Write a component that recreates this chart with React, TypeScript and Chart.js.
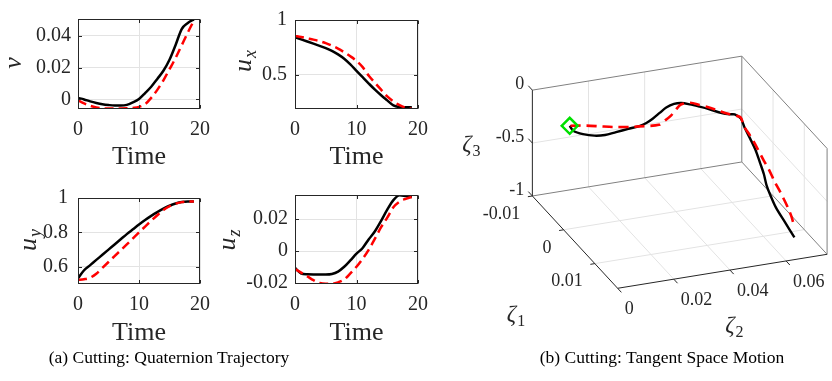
import React, { useEffect, useRef } from "react";
import { Chart, registerables } from "chart.js";

Chart.register(...registerables);

const SERIF = "'Liberation Serif', 'Times New Roman', Times, serif";
const INK = "#262626";
const GRID = "#e3e3e3";
const RED = "#ff0000";

// ---------- (a) quaternion trajectory ----------
const TIME = [0, 1, 2, 3, 4, 5, 6, 7, 8, 9, 10, 11, 12, 13, 14, 15, 16, 17, 18, 19];
const V_DEMO = [0.001, 0.0, -0.0012, -0.0022, -0.003, -0.0035, -0.0038, -0.0038, -0.0034, -0.0018, 0.0003, 0.004, 0.008, 0.0129, 0.018, 0.0249, 0.0342, 0.0442, 0.048, 0.0503];
const V_REPRO = [-0.0006, -0.0025, -0.004, -0.005, -0.0055, -0.0057, -0.0057, -0.0057, -0.0056, -0.0053, -0.0047, -0.003, 0.001, 0.006, 0.012, 0.019, 0.026, 0.034, 0.042, 0.0495];
const UX_DEMO = [0.843, 0.823, 0.803, 0.783, 0.763, 0.742, 0.717, 0.685, 0.645, 0.593, 0.534, 0.476, 0.418, 0.362, 0.311, 0.264, 0.218, 0.203, 0.2, 0.2];
const UX_REPRO = [0.854, 0.844, 0.832, 0.82, 0.806, 0.788, 0.765, 0.738, 0.705, 0.668, 0.625, 0.568, 0.49, 0.425, 0.362, 0.3, 0.255, 0.22, 0.197, 0.186];
const UY_DEMO = [0.533, 0.58, 0.61, 0.64, 0.67, 0.7, 0.73, 0.76, 0.79, 0.818, 0.846, 0.872, 0.896, 0.918, 0.938, 0.955, 0.968, 0.977, 0.98, 0.98];
const UY_REPRO = [0.524, 0.528, 0.537, 0.56, 0.594, 0.628, 0.662, 0.696, 0.73, 0.765, 0.8, 0.834, 0.868, 0.9, 0.93, 0.952, 0.967, 0.976, 0.98, 0.98];
const UZ_DEMO = [-0.0105, -0.014, -0.0145, -0.0146, -0.0146, -0.0146, -0.0143, -0.0128, -0.0098, -0.0058, -0.0016, 0.002, 0.0075, 0.0125, 0.019, 0.026, 0.032, 0.035, 0.0345, 0.034];
const UZ_REPRO = [-0.0112, -0.0135, -0.0158, -0.0182, -0.02, -0.0205, -0.0205, -0.0196, -0.0178, -0.014, -0.0098, -0.0048, 0.001, 0.0078, 0.015, 0.021, 0.0275, 0.031, 0.0328, 0.034];

const X_TICKS = [0, 10, 20];
const V_TICKS = [0, 0.02, 0.04];
const UX_TICKS = [0.5, 1];
const UY_TICKS = [0.6, 0.8, 1];
const UZ_TICKS = [-0.02, 0, 0.02];

// ---------- (b) tangent space motion ----------
const DEMO_Z1 = [-0.002, -0.0023, -0.0027, -0.003, -0.0033, -0.0037, -0.004, -0.0043, -0.0047, -0.005, -0.0053, -0.0057, -0.006, -0.006, -0.006, -0.006, -0.006, -0.0057, -0.005, -0.0043, -0.0032, -0.0017, -0.0001, 0.0014, 0.003, 0.0046, 0.0062, 0.0078, 0.0093, 0.0109, 0.0125];
const DEMO_Z2 = [0.0044, 0.0061, 0.0099, 0.0143, 0.0184, 0.0228, 0.0275, 0.032, 0.0347, 0.0374, 0.0401, 0.0429, 0.046, 0.0486, 0.0517, 0.0551, 0.0584, 0.0627, 0.0647, 0.0657, 0.0667, 0.0664, 0.0666, 0.0667, 0.0666, 0.0662, 0.0654, 0.0649, 0.0653, 0.0666, 0.0683];
const DEMO_Z3 = [-0.1, -0.167, -0.225, -0.268, -0.289, -0.293, -0.293, -0.293, -0.291, -0.269, -0.238, -0.212, -0.201, -0.203, -0.23, -0.266, -0.303, -0.349, -0.347, -0.33, -0.339, -0.377, -0.431, -0.482, -0.556, -0.611, -0.663, -0.699, -0.775, -0.862, -0.967];
const REPRO_Z1 = [-0.002, -0.0024, -0.0027, -0.0031, -0.0035, -0.0039, -0.0042, -0.0046, -0.005, -0.0053, -0.0057, -0.006, -0.006, -0.006, -0.006, -0.0059, -0.0051, -0.0044, -0.0032, -0.0015, 0.0003, 0.002, 0.0037, 0.0053, 0.0071, 0.009, 0.0107, 0.0125];
const REPRO_Z2 = [0.0047, 0.0107, 0.0167, 0.0216, 0.0276, 0.0331, 0.0386, 0.0413, 0.0439, 0.0459, 0.0481, 0.0518, 0.0551, 0.0585, 0.0619, 0.0651, 0.0671, 0.068, 0.0678, 0.0681, 0.0684, 0.0688, 0.0691, 0.0694, 0.0693, 0.0699, 0.0693, 0.0683];
const REPRO_Z3 = [-0.101, -0.138, -0.182, -0.221, -0.259, -0.288, -0.309, -0.291, -0.267, -0.232, -0.205, -0.215, -0.249, -0.288, -0.333, -0.372, -0.373, -0.373, -0.417, -0.451, -0.501, -0.565, -0.615, -0.682, -0.716, -0.805, -0.835, -0.872];

const Z1_TICKS = [-0.01, 0, 0.01];
const Z2_TICKS = [0, 0.02, 0.04, 0.06];
const Z3_TICKS = [-1, -0.5, 0];
const Z1_LIM = [-0.01, 0.0173];
const Z2_LIM = [0, 0.0746];
const Z3_LIM = [-1, 0];

// orthographic view of the 3-D box (canvas units)
const VIEW = { ox: 86.5, oy: 197.5, e1: [90.1, 98.3], e2: [221.3, -36.2], e3: [0, -112.7] };

function project(a: number, b: number, c: number) {
  const n1 = (a - Z1_LIM[0]) / (Z1_LIM[1] - Z1_LIM[0]);
  const n2 = (b - Z2_LIM[0]) / (Z2_LIM[1] - Z2_LIM[0]);
  const n3 = (c - Z3_LIM[0]) / (Z3_LIM[1] - Z3_LIM[0]);
  return {
    x: VIEW.ox + n1 * VIEW.e1[0] + n2 * VIEW.e2[0] + n3 * VIEW.e3[0],
    y: VIEW.oy + n1 * VIEW.e1[1] + n2 * VIEW.e2[1] + n3 * VIEW.e3[1],
  };
}

const fmt = (v: number) => String(parseFloat(Number(v).toFixed(4)));

function drawLabel(ctx: CanvasRenderingContext2D, cx: number, cy: number, main: string, sub: string | undefined, size: number, rotate: boolean, subItalic: boolean) {
  ctx.save();
  ctx.translate(cx, cy);
  if (rotate) ctx.rotate(-Math.PI / 2);
  ctx.fillStyle = INK;
  ctx.textBaseline = "alphabetic";
  ctx.textAlign = "left";
  const mf = `italic ${size}px ${SERIF}`;
  const sSize = Math.round(size * 0.68);
  const sf = `${subItalic ? "italic " : ""}${sSize}px ${SERIF}`;
  ctx.font = mf;
  const w1 = ctx.measureText(main).width;
  let w2 = 0;
  if (sub) {
    ctx.font = sf;
    w2 = ctx.measureText(sub).width;
  }
  const gap = sub ? 1 : 0;
  const x0 = -(w1 + gap + w2) / 2;
  const base = size * 0.22;
  ctx.font = mf;
  ctx.fillText(main, x0, base);
  if (sub) {
    ctx.font = sf;
    ctx.fillText(sub, x0 + w1 + gap, base + size * 0.22);
  }
  ctx.restore();
}

type PlotSpec = {
  left: number;
  top: number;
  area: { l: number; t: number; r: number; b: number };
  yMin: number;
  yMax: number;
  yTicks: number[];
  demo: number[];
  repro: number[];
  label: { main: string; sub?: string; cx: number; cy: number };
  yPad: number;
};

const SPECS: PlotSpec[] = [
  { left: 0, top: 0, area: { l: 78, t: 14, r: 200, b: 109 }, yMin: -0.006, yMax: 0.0505, yTicks: V_TICKS, demo: V_DEMO, repro: V_REPRO, label: { main: "v", cx: 15, cy: 63 }, yPad: 7 },
  { left: 220, top: 0, area: { l: 75, t: 14, r: 198, b: 109 }, yMin: 0.185, yMax: 1, yTicks: UX_TICKS, demo: UX_DEMO, repro: UX_REPRO, label: { main: "u", sub: "x", cx: 25, cy: 61 }, yPad: 8 },
  { left: 0, top: 176, area: { l: 78, t: 14, r: 200, b: 108 }, yMin: 0.5, yMax: 1, yTicks: UY_TICKS, demo: UY_DEMO, repro: UY_REPRO, label: { main: "u", sub: "y", cx: 30, cy: 64 }, yPad: 10 },
  { left: 220, top: 176, area: { l: 75, t: 14, r: 198, b: 108 }, yMin: -0.0206, yMax: 0.0352, yTicks: UZ_TICKS, demo: UZ_DEMO, repro: UZ_REPRO, label: { main: "u", sub: "z", cx: 9, cy: 64 }, yPad: 7 },
];

const PW = 220;
const PH = 176;

function SmallPlot({ spec }: { spec: PlotSpec }) {
  const ref = useRef<HTMLCanvasElement | null>(null);
  useEffect(() => {
    const { area } = spec;
    const decor = {
      id: "decor",
      afterDatasetsDraw(chart: any) {
        const { ctx, chartArea: ca } = chart;
        ctx.save();
        ctx.strokeStyle = INK;
        ctx.lineWidth = 1;
        const L = Math.round(ca.left) + 0.5;
        const R = Math.round(ca.right) - 0.5;
        const T = Math.round(ca.top) + 0.5;
        const B = Math.round(ca.bottom) - 0.5;
        ctx.strokeRect(L, T, R - L, B - T);
        const tl = 3.5;
        ctx.beginPath();
        for (const t of chart.scales.x.ticks) {
          const px = Math.round(chart.scales.x.getPixelForValue(t.value)) + 0.5;
          ctx.moveTo(px, B);
          ctx.lineTo(px, B - tl);
          ctx.moveTo(px, T);
          ctx.lineTo(px, T + tl);
        }
        for (const t of chart.scales.y.ticks) {
          const py = Math.round(chart.scales.y.getPixelForValue(t.value)) + 0.5;
          ctx.moveTo(L, py);
          ctx.lineTo(L + tl, py);
          ctx.moveTo(R, py);
          ctx.lineTo(R - tl, py);
        }
        ctx.stroke();
        ctx.restore();
        drawLabel(ctx, spec.label.cx, spec.label.cy, spec.label.main, spec.label.sub, 26, true, true);
      },
    };
    const chart = new Chart(ref.current as HTMLCanvasElement, {
      type: "line",
      data: {
        datasets: [
          {
            data: TIME.map((t, i) => ({ x: t, y: spec.repro[i] })),
            borderColor: RED,
            borderWidth: 2.5,
            borderDash: [9, 5],
            pointRadius: 0,
            cubicInterpolationMode: "monotone",
            order: 1,
          },
          {
            data: TIME.map((t, i) => ({ x: t, y: spec.demo[i] })),
            borderColor: "#000000",
            borderWidth: 2.5,
            pointRadius: 0,
            cubicInterpolationMode: "monotone",
            order: 2,
          },
        ],
      },
      options: {
        animation: false,
        responsive: false,
        events: [],
        layout: { padding: { left: 0, top: area.t, right: PW - area.r, bottom: 0 } },
        plugins: { legend: { display: false }, tooltip: { enabled: false } },
        scales: {
          x: {
            type: "linear",
            min: 0,
            max: 20,
            afterBuildTicks: (s: any) => {
              s.ticks = X_TICKS.map((v) => ({ value: v }));
            },
            afterFit: (s: any) => {
              s.height = PH - area.b;
            },
            grid: { color: GRID, drawTicks: false },
            border: { display: false },
            ticks: { padding: 9, color: INK, font: { family: SERIF, size: 20 }, maxRotation: 0, autoSkip: false, callback: (v: any) => fmt(v) },
            title: { display: true, text: "Time", color: INK, font: { family: SERIF, size: 26 }, padding: { top: 0, bottom: 3 } },
          },
          y: {
            type: "linear",
            min: spec.yMin,
            max: spec.yMax,
            afterBuildTicks: (s: any) => {
              s.ticks = spec.yTicks.map((v) => ({ value: v }));
            },
            afterFit: (s: any) => {
              s.width = area.l;
            },
            grid: { color: GRID, drawTicks: false },
            border: { display: false },
            ticks: { padding: spec.yPad, color: INK, font: { family: SERIF, size: 20 }, autoSkip: false, callback: (v: any) => fmt(v) },
          },
        },
      } as any,
      plugins: [decor],
    });
    return () => chart.destroy();
  }, []);
  return <canvas ref={ref} width={PW} height={PH} style={{ position: "absolute", left: spec.left, top: spec.top, width: PW, height: PH }} />;
}

const TW = 392;
const TH = 345;

function TangentPlot() {
  const ref = useRef<HTMLCanvasElement | null>(null);
  useEffect(() => {
    const demo = DEMO_Z1.map((a, i) => project(a, DEMO_Z2[i], DEMO_Z3[i]));
    const repro = REPRO_Z1.map((a, i) => project(a, REPRO_Z2[i], REPRO_Z3[i]));
    const start = [project(DEMO_Z1[0], DEMO_Z2[0], DEMO_Z3[0])];
    const [a0, a1] = Z1_LIM;
    const [b0, b1] = Z2_LIM;
    const [c0, c1] = Z3_LIM;
    const box = {
      id: "box3d",
      beforeDatasetsDraw(chart: any) {
        const { ctx } = chart;
        const sx = chart.scales.x;
        const sy = chart.scales.y;
        const P = (a: number, b: number, c: number) => {
          const p = project(a, b, c);
          return [sx.getPixelForValue(p.x), sy.getPixelForValue(p.y)];
        };
        const line = (p: number[], q: number[], color: string) => {
          ctx.strokeStyle = color;
          ctx.beginPath();
          ctx.moveTo(p[0], p[1]);
          ctx.lineTo(q[0], q[1]);
          ctx.stroke();
        };
        ctx.save();
        ctx.lineWidth = 1;
        for (const b of Z2_TICKS) {
          if (b > b0 && b < b1) {
            line(P(a0, b, c0), P(a0, b, c1), GRID);
            line(P(a0, b, c0), P(a1, b, c0), GRID);
          }
        }
        for (const a of Z1_TICKS) {
          if (a > a0 && a < a1) {
            line(P(a, b1, c0), P(a, b1, c1), GRID);
            line(P(a, b0, c0), P(a, b1, c0), GRID);
          }
        }
        for (const c of Z3_TICKS) {
          if (c > c0 && c < c1) {
            line(P(a0, b0, c), P(a0, b1, c), GRID);
            line(P(a0, b1, c), P(a1, b1, c), GRID);
          }
        }
        const EDGE = "#808080";
        line(P(a0, b0, c1), P(a0, b1, c1), EDGE);
        line(P(a0, b0, c0), P(a0, b1, c0), EDGE);
        line(P(a0, b1, c0), P(a0, b1, c1), EDGE);
        line(P(a0, b1, c1), P(a1, b1, c1), EDGE);
        line(P(a0, b1, c0), P(a1, b1, c0), EDGE);
        line(P(a1, b1, c0), P(a1, b1, c1), EDGE);
        line(P(a0, b0, c0), P(a0, b0, c1), INK);
        line(P(a0, b0, c0), P(a1, b0, c0), INK);
        line(P(a1, b0, c0), P(a1, b1, c0), INK);
        // ticks
        for (const c of Z3_TICKS) line(P(a0, b0, c), P(a0 - 0.0013, b0, c), INK);
        for (const a of Z1_TICKS) line(P(a, b0, c0), P(a, b0 - 0.0016, c0), INK);
        for (const b of Z2_TICKS) line(P(a1, b, c0), P(a1 + 0.0012, b, c0), INK);
        // tick labels
        ctx.fillStyle = INK;
        ctx.font = `18px ${SERIF}`;
        ctx.textBaseline = "middle";
        ctx.textAlign = "right";
        for (const c of Z3_TICKS) {
          const p = P(a0, b0, c);
          ctx.fillText(fmt(c), p[0] - 8, p[1] - 5.5);
        }
        for (const a of Z1_TICKS) {
          const p = P(a, b0, c0);
          ctx.fillText(fmt(a), p[0] - 12, p[1] + 18);
        }
        ctx.textAlign = "left";
        for (const b of Z2_TICKS) {
          const p = P(a1, b, c0);
          ctx.fillText(fmt(b), p[0] + 7, p[1] + 21);
        }
        // axis labels
        const m1 = P((a0 + a1) / 2, b0, c0);
        const m2 = P(a1, (b0 + b1) / 2, c0);
        const m3 = P(a0, b0, (c0 + c1) / 2);
        drawLabel(ctx, m1[0] - 59, m1[1] + 74, "ζ", "1", 23, false, false);
        drawLabel(ctx, m2[0] + 12, m2[1] + 56, "ζ", "2", 23, false, false);
        drawLabel(ctx, m3[0] - 61, m3[1] + 3, "ζ", "3", 23, false, false);
        ctx.restore();
      },
    };
    const chart = new Chart(ref.current as HTMLCanvasElement, {
      type: "scatter",
      data: {
        datasets: [
          {
            data: start,
            showLine: false,
            pointStyle: "rectRot",
            pointRadius: 8,
            borderColor: "#00e000",
            pointBorderColor: "#00e000",
            pointBackgroundColor: "rgba(255,255,255,0)",
            pointBorderWidth: 2.5,
            order: 0,
          },
          {
            data: repro,
            showLine: true,
            borderColor: RED,
            borderWidth: 2.6,
            borderDash: [10, 6],
            pointRadius: 0,
            tension: 0.3,
            order: 1,
          },
          {
            data: demo,
            showLine: true,
            borderColor: "#000000",
            borderWidth: 2.4,
            pointRadius: 0,
            tension: 0.3,
            order: 2,
          },
        ],
      },
      options: {
        animation: false,
        responsive: false,
        events: [],
        layout: { padding: 0 },
        plugins: { legend: { display: false }, tooltip: { enabled: false } },
        scales: {
          x: { type: "linear", display: false, min: 0, max: TW },
          y: { type: "linear", display: false, min: 0, max: TH, reverse: true },
        },
      } as any,
      plugins: [box],
    });
    return () => chart.destroy();
  }, []);
  return <canvas ref={ref} width={TW} height={TH} style={{ position: "absolute", left: 440, top: 0, width: TW, height: TH }} />;
}

const captionStyle: React.CSSProperties = {
  position: "absolute",
  top: 347,
  textAlign: "center",
  fontFamily: SERIF,
  fontSize: 17.5,
  lineHeight: "20px",
  color: "#000",
  whiteSpace: "nowrap",
};

export default function App() {
  return (
    <div style={{ position: "absolute", left: 0, top: 0, width: 832, height: 381, background: "#ffffff", overflow: "hidden" }}>
      {SPECS.map((s, i) => (
        <SmallPlot key={i} spec={s} />
      ))}
      <TangentPlot />
      <div style={{ ...captionStyle, left: 0, width: 338 }}>(a) Cutting: Quaternion Trajectory</div>
      <div style={{ ...captionStyle, left: 492, width: 340 }}>(b) Cutting: Tangent Space Motion</div>
    </div>
  );
}
